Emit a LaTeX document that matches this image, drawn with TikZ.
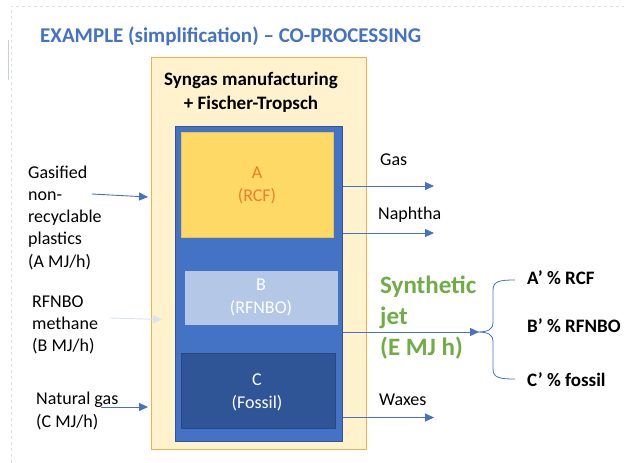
\documentclass[tikz,border=0pt]{standalone}
\usepackage{fontspec}
\setmainfont{Carlito}
\usetikzlibrary{arrows.meta}
\definecolor{tblue}{HTML}{4472C4}
\definecolor{dblue}{HTML}{2F5597}
\definecolor{lblue}{HTML}{B4C7E7}
\definecolor{pblue}{HTML}{DAE3F3}
\definecolor{oborder}{HTML}{F7B048}
\definecolor{ofill}{HTML}{FFF2CC}
\definecolor{afill}{HTML}{FFD966}
\definecolor{atext}{HTML}{ED7D31}
\definecolor{jgreen}{HTML}{70AD47}
\definecolor{frame}{HTML}{D9E1F0}
\tikzset{
  box/.style={draw, anchor=north west, inner sep=0, line width=1.2pt},
  lbl/.style={inner sep=0, anchor=west, align=left, text=black, font=\fontsize{18}{22.25}\selectfont},
  outlbl/.style={inner sep=0, anchor=west, text=black, font=\fontsize{18}{22}\selectfont},
  pct/.style={inner sep=0, anchor=west, text=black, font=\fontsize{19}{23}\selectfont\bfseries},
  inbox/.style={inner sep=0, align=center, font=\fontsize{18}{23}\selectfont},
  flow/.style={draw=tblue, line width=0.9pt, -{Triangle[length=9pt,width=8pt]}},
}
\begin{document}
\begin{tikzpicture}[x=1pt,y=-1pt]
\fill[white] (0,0) rectangle (624,463);
\useasboundingbox (0,0) rectangle (624,463);
% faint slide frame
\draw[frame, dashed, line width=0.8pt] (11,463) -- (11,6) -- (624,6);
\draw[frame!80!gray, line width=1pt] (8,40) -- (8,80);
% title
\node[inner sep=0, anchor=west, text=tblue, font=\fontsize{21}{25}\selectfont\bfseries] (title) at (40,36) {EXAMPLE (simplification) – CO-PROCESSING};
% boxes
\node[box, draw=oborder, fill=ofill, line width=1.3pt, minimum width=215pt, minimum height=392pt] (outer) at (151,57) {};
\node[inner sep=0, align=center, font=\fontsize{19}{24}\selectfont\bfseries] (ftitle) at (251,92) {Syngas manufacturing\\+ Fischer-Tropsch};
\node[box, draw=dblue, fill=tblue, minimum width=167pt, minimum height=315pt] (blue) at (175,126) {};
\node[box, draw=afill!90!black, fill=afill, line width=0.6pt, minimum width=152pt, minimum height=105pt] (A) at (181,132) {};
\node[inbox, text=atext] (Atext) at (257,185.5) {A\\(RCF)};
\node[box, draw=lblue, fill=lblue, line width=0.6pt, minimum width=152pt, minimum height=53pt] (B) at (185,271) {};
\node[inbox, text=white] (Btext) at (261,297.5) {B\\(RFNBO)};
\node[box, draw=dblue!85!black, fill=dblue, line width=0.6pt, minimum width=154pt, minimum height=75pt] (C) at (181,353) {};
\node[inbox, text=white] (Ctext) at (257,392) {C\\(Fossil)};
% left inputs
\node[lbl] (inA) at (28,217.5) {Gasified\\non-\\recyclable\\plastics\\(A MJ/h)};
\node[lbl] (inB) at (32,325) {RFNBO\\methane\\(B MJ/h)};
\node[lbl] (inC) at (36,411) {Natural gas\\(C MJ/h)};
\coordinate (aS) at (92,194); \coordinate (aE) at (148,197);
\coordinate (bS) at (110,318); \coordinate (bE) at (162,319.5);
\coordinate (cS) at (101,407); \coordinate (cE) at (148,407);
\draw[flow] (aS) -- (aE);
\draw[flow, draw=pblue, -{Triangle[length=9pt,width=8pt]}] (bS) -- (bE);
\draw[flow] (cS) -- (cE);
% outputs
\coordinate (gasE) at (434,186);
\coordinate (napE) at (434,233);
\coordinate (jetE) at (479,332);
\coordinate (waxE) at (434,417.5);
\draw[flow] (blue.east |- gasE) -- (gasE);
\draw[flow] (blue.east |- napE) -- (napE);
\draw[flow] (blue.east |- jetE) -- (jetE);
\draw[flow] (blue.east |- waxE) -- (waxE);
\node[outlbl] (gas) at (380,160) {Gas};
\node[outlbl] (nap) at (378,215) {Naphtha};
\node[outlbl] (wax) at (379,400) {Waxes};
\node[inner sep=0, anchor=west, align=left, text=jgreen, font=\fontsize{25}{31}\selectfont\bfseries] (jet) at (380,318) {Synthetic\\jet\\(E MJ h)};
% brace
\coordinate (brT) at (515,280);
\coordinate (brM) at (476,332);
\coordinate (brB) at (515,379);
\draw[tblue, line width=0.8pt] (brT) .. controls (500,280) and (493,281) .. (493,290) -- (493,322) .. controls (493,330) and (488,332) .. (brM) .. controls (488,332) and (493,334) .. (493,342) -- (493,369) .. controls (493,378) and (500,379) .. (brB);
\node[pct] (pa) at (527,278) {A’ \% RCF};
\node[pct] (pb) at (527,326) {B’ \% RFNBO};
\node[pct] (pc) at (527,380) {C’ \% fossil};
\end{tikzpicture}
\end{document}
